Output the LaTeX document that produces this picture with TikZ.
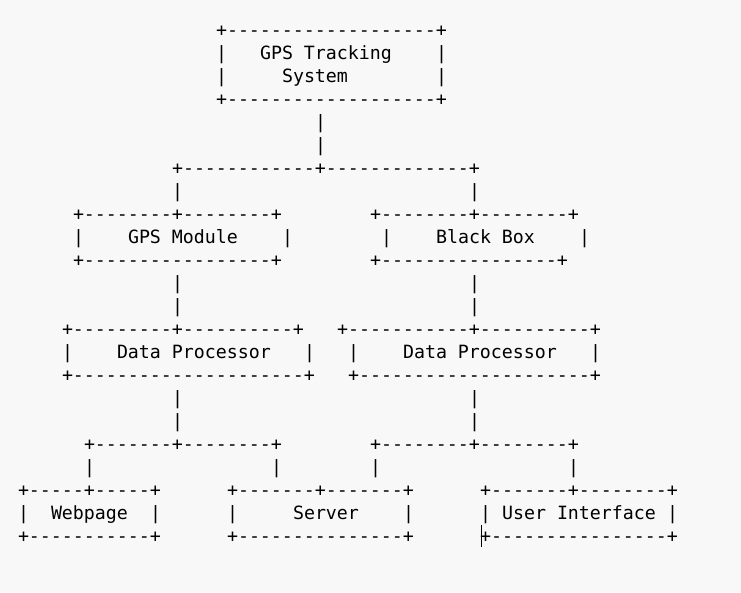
\documentclass[tikz,border=0pt]{standalone}
\usepackage{fontspec}
\setmonofont{DejaVu Sans Mono}
\definecolor{paper}{RGB}{248,248,248}
\tikzset{asc/.style={anchor=base west,inner sep=0pt,text=black,
    font=\ttfamily\fontsize{18.27}{23}\selectfont}}
\begin{document}
\begin{tikzpicture}[x=1pt,y=-1pt]
	\fill[paper] (0,0) rectangle (741,592);
	\begin{scope}[shift={(17.8,36.3)},x=11pt,y=-23pt]
		% GPS Tracking System
		\node[asc] (sysTop) at (18,0) {+-------------------+};
		\node[asc] (sysLa) at (18,1) {|};
		\node[asc] (sysTxtA) at (22,1) {GPS Tracking};
		\node[asc] (sysRa) at (38,1) {|};
		\node[asc] (sysLb) at (18,2) {|};
		\node[asc] (sysTxtB) at (24,2) {System};
		\node[asc] (sysRb) at (38,2) {|};
		\node[asc] (sysBot) at (18,3) {+-------------------+};
		\node[asc] (stemA) at (27,4) {|};
		\node[asc] (stemB) at (27,5) {|};
		% Verzweigung
		\node[asc] (forkTop) at (14,6) {+------------+-------------+};
		\node[asc] (forkL) at (14,7) {|};
		\node[asc] (forkR) at (41,7) {|};
		% GPS Module
		\node[asc] (gpsTop) at (5,8) {+--------+--------+};
		\node[asc] (gpsL) at (5,9) {|};
		\node[asc] (gpsTxt) at (10,9) {GPS Module};
		\node[asc] (gpsR) at (24,9) {|};
		\node[asc] (gpsBot) at (5,10) {+-----------------+};
		% Black Box
		\node[asc] (bbTop) at (32,8) {+--------+--------+};
		\node[asc] (bbL) at (33,9) {|};
		\node[asc] (bbTxt) at (38,9) {Black Box};
		\node[asc] (bbR) at (51,9) {|};
		\node[asc] (bbBot) at (32,10) {+----------------+};
		\foreach \r in {11,12}{
			\node[asc] (linkL\r) at (14,\r) {|};
			\node[asc] (linkR\r) at (41,\r) {|};
		}
		% Data Processor (links)
		\node[asc] (dpaTop) at (4,13) {+---------+----------+};
		\node[asc] (dpaL) at (4,14) {|};
		\node[asc] (dpaTxt) at (9,14) {Data Processor};
		\node[asc] (dpaR) at (26,14) {|};
		\node[asc] (dpaBot) at (4,15) {+---------------------+};
		% Data Processor (rechts)
		\node[asc] (dpbTop) at (29,13) {+-----------+----------+};
		\node[asc] (dpbL) at (30,14) {|};
		\node[asc] (dpbTxt) at (35,14) {Data Processor};
		\node[asc] (dpbR) at (52,14) {|};
		\node[asc] (dpbBot) at (30,15) {+---------------------+};
		\foreach \r in {16,17}{
			\node[asc] (outL\r) at (14,\r) {|};
			\node[asc] (outR\r) at (41,\r) {|};
		}
		% untere Verzweigungen
		\node[asc] (splitA) at (6,18) {+-------+--------+};
		\node[asc] (splitB) at (32,18) {+--------+--------+};
		\foreach \c in {6,23,32,50}
			\node[asc] (drop\c) at (\c,19) {|};
		% Webpage
		\node[asc] (webTop) at (0,20) {+-----+-----+};
		\node[asc] (webL) at (0,21) {|};
		\node[asc] (webTxt) at (3,21) {Webpage};
		\node[asc] (webR) at (12,21) {|};
		\node[asc] (webBot) at (0,22) {+-----------+};
		% Server
		\node[asc] (srvTop) at (19,20) {+-------+-------+};
		\node[asc] (srvL) at (19,21) {|};
		\node[asc] (srvTxt) at (25,21) {Server};
		\node[asc] (srvR) at (35,21) {|};
		\node[asc] (srvBot) at (19,22) {+---------------+};
		% User Interface
		\node[asc] (uiTop) at (42,20) {+-------+--------+};
		\node[asc] (uiL) at (42,21) {|};
		\node[asc] (uiTxt) at (44,21) {User Interface};
		\node[asc] (uiR) at (59,21) {|};
		\node[asc] (uiBot) at (42,22) {+----------------+};
	\end{scope}
	% Textcursor
	\draw[line width=0.9pt] (481,525) -- (481,547);
\end{tikzpicture}
\end{document}
